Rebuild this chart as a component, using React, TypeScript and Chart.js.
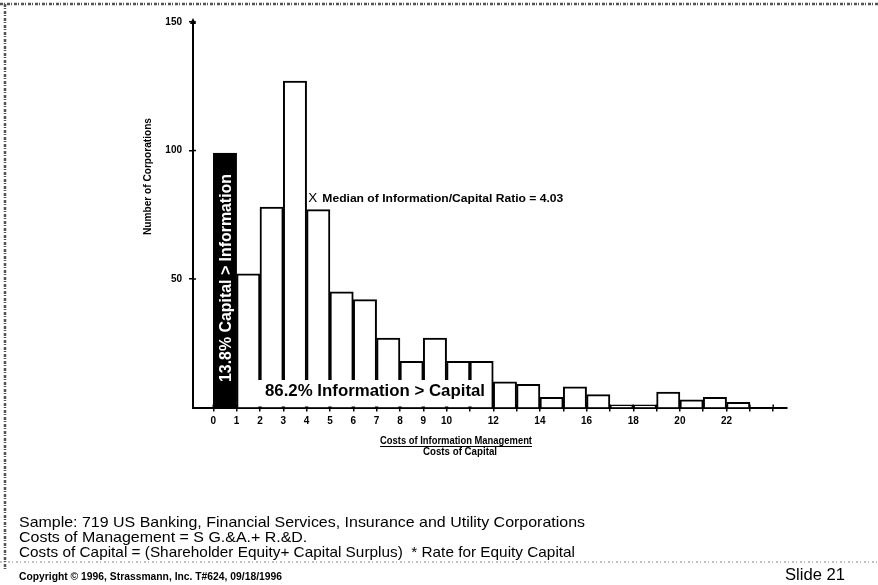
import React, { useEffect, useRef } from "react";
import { Chart, registerables } from "chart.js";

Chart.register(...registerables);

// ---- data ----
const binStarts = [0, 1, 2, 3, 4, 5, 6, 7, 8, 9, 10, 11, 12, 13, 14, 15, 16, 17, 18, 19, 20, 21, 22];
const corporations = [99, 52, 78, 127, 77, 45, 42, 27, 18, 27, 18, 18, 10, 9, 4, 8, 5, 1, 1, 6, 3, 4, 2];
const xTickValues = [0, 1, 2, 3, 4, 5, 6, 7, 8, 9, 10, 11, 12, 13, 14, 15, 16, 17, 18, 19, 20, 21, 22, 23, 24];
const xTickLabels = ["0", "1", "2", "3", "4", "5", "6", "7", "8", "9", "10", "", "12", "", "14", "", "16", "", "18", "", "20", "", "22", "", ""];
const yTickValues = [50, 100, 150];
const medianRatio = 4.03;

const yTitle = "Number of Corporations";
const capitalText = "13.8% Capital > Information";
const infoText = "86.2% Information > Capital";
const medianText = "Median of Information/Capital Ratio = 4.03";
const xTitle1 = "Costs of Information Management";
const xTitle2 = "Costs of Capital";
const notes = [
  "Sample: 719 US Banking, Financial Services, Insurance and Utility Corporations",
  "Costs of Management = S G.&A.+ R.&D.",
  "Costs of Capital = (Shareholder Equity+ Capital Surplus)  * Rate for Equity Capital",
];
const copyright = "Copyright \u00A9 1996, Strassmann, Inc. T#624, 09/18/1996";
const slideLabel = "Slide 21";

const SANS = '"Liberation Sans", Arial, Helvetica, sans-serif';

function fitText(ctx: CanvasRenderingContext2D, text: string, x: number, y: number, width: number) {
  const w = ctx.measureText(text).width;
  ctx.save();
  ctx.translate(x, y);
  ctx.scale(width / w, 1);
  ctx.fillText(text, 0, 0);
  ctx.restore();
}

function scaledText(ctx: CanvasRenderingContext2D, text: string, x: number, y: number, sx: number) {
  ctx.save();
  ctx.translate(x, y);
  ctx.scale(sx, 1);
  ctx.fillText(text, 0, 0);
  ctx.restore();
}

const annotations = {
  id: "annotations",
  afterDraw(chart: any) {
    const ctx: CanvasRenderingContext2D = chart.ctx;
    const xs = chart.scales.x;
    const ys = chart.scales.y;
    const area = chart.chartArea;
    ctx.save();
    ctx.fillStyle = "#000";
    ctx.strokeStyle = "#000";
    ctx.textAlign = "left";
    ctx.textBaseline = "middle";

    // arrow tip on y axis
    ctx.beginPath();
    ctx.moveTo(area.left - 3, area.top + 2);
    ctx.lineTo(area.left, area.top - 4);
    ctx.lineTo(area.left + 3, area.top + 2);
    ctx.closePath();
    ctx.fill();

    // tick marks above the x axis (cross marks)
    ctx.lineWidth = 1.5;
    for (const v of xTickValues) {
      const px = xs.getPixelForValue(v);
      ctx.beginPath();
      ctx.moveTo(px, area.bottom);
      ctx.lineTo(px, area.bottom - 3);
      ctx.stroke();
    }
    for (const v of yTickValues) {
      const py = ys.getPixelForValue(v);
      ctx.beginPath();
      ctx.moveTo(area.left, py);
      ctx.lineTo(area.left + 3, py);
      ctx.stroke();
    }

    // y title
    ctx.save();
    ctx.font = `bold 11px ${SANS}`;
    ctx.translate(148, 177);
    ctx.rotate(-Math.PI / 2);
    ctx.textAlign = "left";
    fitText(ctx, yTitle, -58, 0, 117);
    ctx.restore();

    // white text in black bar
    ctx.save();
    ctx.fillStyle = "#fff";
    ctx.font = `bold 17px ${SANS}`;
    const bx = (xs.getPixelForValue(0) + xs.getPixelForValue(1)) / 2;
    ctx.translate(bx + 1, 382);
    ctx.rotate(-Math.PI / 2);
    fitText(ctx, capitalText, 0, 0, 208);
    ctx.restore();

    // info > capital label with white box
    ctx.fillStyle = "#fff";
    ctx.fillRect(250, 380, 240, area.bottom - 381);
    ctx.fillStyle = "#000";
    ctx.font = `bold 17px ${SANS}`;
    fitText(ctx, infoText, 265, 391, 220);

    // median marker
    const mx = xs.getPixelForValue(medianRatio);
    const my = 199;
    ctx.font = `12px ${SANS}`;
    fitText(ctx, "X", mx + 1, my, 9);
    ctx.font = `bold 10px ${SANS}`;
    fitText(ctx, medianText, mx + 15, my, 241);

    // x titles
    ctx.font = `bold 10px ${SANS}`;
    fitText(ctx, xTitle1, 380, 441, 152);
    ctx.lineWidth = 1;
    ctx.beginPath();
    ctx.moveTo(380, 446.5);
    ctx.lineTo(532, 446.5);
    ctx.stroke();
    fitText(ctx, xTitle2, 423, 452, 74);

    // notes
    ctx.font = `15px ${SANS}`;
    const sx = 566 / ctx.measureText(notes[0]).width;
    scaledText(ctx, notes[0], 19, 523, sx);
    scaledText(ctx, notes[1], 19, 538, sx);
    fitText(ctx, notes[2], 19, 553, 556);

    ctx.font = `bold 10px ${SANS}`;
    fitText(ctx, copyright, 19, 577, 263);
    ctx.font = `16px ${SANS}`;
    fitText(ctx, slideLabel, 785, 576, 60);

    // scanned border artefacts
    ctx.strokeStyle = "rgba(40,40,40,0.8)";
    ctx.lineWidth = 2.5;
    ctx.setLineDash([3, 1, 1, 2]);
    ctx.beginPath();
    ctx.moveTo(0, 4);
    ctx.lineTo(878, 4);
    ctx.moveTo(5, 4);
    ctx.lineTo(5, 570);
    ctx.stroke();
    ctx.strokeStyle = "rgba(90,90,90,0.5)";
    ctx.lineWidth = 1.5;
    ctx.setLineDash([2, 2, 1, 3]);
    ctx.beginPath();
    ctx.moveTo(0, 562);
    ctx.lineTo(878, 562);
    ctx.stroke();
    ctx.setLineDash([]);
    ctx.restore();
  },
};

export default function App() {
  const ref = useRef<HTMLCanvasElement | null>(null);
  useEffect(() => {
    document.body.style.margin = "0";
    const canvas = ref.current!;
    const chart = new Chart(canvas, {
      type: "bar",
      data: {
        datasets: [
          {
            data: binStarts.map((s, i) => ({ x: s + 0.5, y: corporations[i] })),
            backgroundColor: binStarts.map((_, i) => (i === 0 ? "#000" : "#fff")),
            borderColor: "#000",
            borderWidth: 2,
            barPercentage: 1,
            categoryPercentage: 1,
          },
        ],
      },
      options: {
        animation: false,
        responsive: false,
        devicePixelRatio: 1,
        layout: { padding: { left: 0, top: 22, right: 91, bottom: 0 } },
        plugins: { legend: { display: false }, tooltip: { enabled: false }, title: { display: false } },
        scales: {
          x: {
            type: "linear",
            offset: false,
            min: -0.87,
            max: 24.59,
            afterBuildTicks: (scale: any) => {
              scale.ticks = xTickValues.map((v) => ({ value: v }));
            },
            afterFit: (scale: any) => {
              scale.height = 585 - 407.5;
            },
            grid: { display: true, drawOnChartArea: false, offset: false, tickLength: 4, color: "#000", lineWidth: 1.5 },
            border: { display: true, color: "#000", width: 2 },
            ticks: {
              autoSkip: false,
              maxRotation: 0,
              padding: 4,
              color: "#000",
              font: { family: SANS, size: 10, weight: "bold" },
              callback: (v: any) => {
                const i = xTickValues.indexOf(Number(v));
                return i >= 0 ? xTickLabels[i] : "";
              },
            },
          },
          y: {
            type: "linear",
            min: 0,
            max: 150,
            afterBuildTicks: (scale: any) => {
              scale.ticks = yTickValues.map((v) => ({ value: v }));
            },
            afterFit: (scale: any) => {
              scale.width = 193;
            },
            grid: { display: true, drawOnChartArea: false, tickLength: 4, color: "#000", lineWidth: 1.5 },
            border: { display: true, color: "#000", width: 2 },
            ticks: {
              padding: 7,
              color: "#000",
              font: { family: SANS, size: 10, weight: "bold" },
            },
          },
        },
      },
      plugins: [annotations],
    } as any);
    return () => chart.destroy();
  }, []);
  return (
    <div style={{ width: 878, height: 585, background: "#fff" }}>
      <canvas ref={ref} width={878} height={585} style={{ display: "block" }} />
    </div>
  );
}
